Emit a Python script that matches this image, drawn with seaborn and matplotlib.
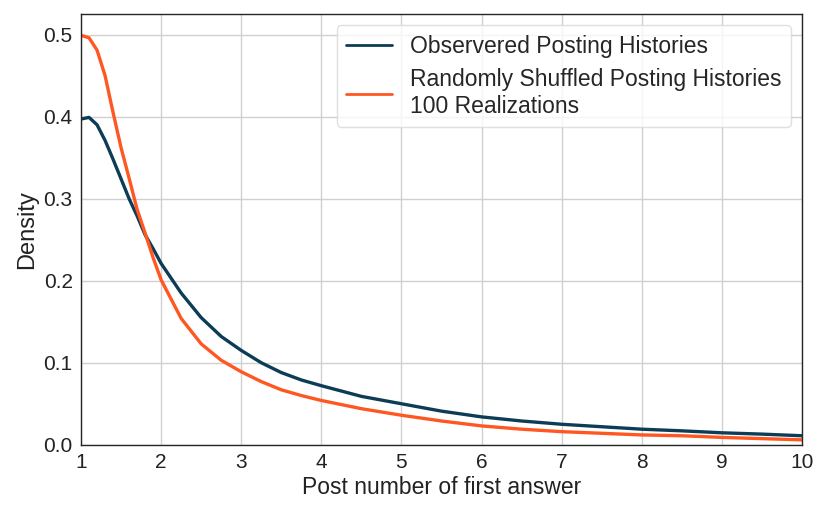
import matplotlib
matplotlib.use("Agg")
import matplotlib.pyplot as plt
import seaborn as sns
import pandas as pd

x_vals = [1.0, 1.1, 1.2, 1.3, 1.4, 1.5, 1.6, 1.7, 1.8, 1.9, 2.0, 2.25, 2.5, 2.75,
          3.0, 3.25, 3.5, 3.75, 4.0, 4.5, 5.0, 5.5, 6.0, 6.5, 7.0, 7.5, 8.0, 8.5,
          9.0, 9.5, 10.0]
observed = [0.397, 0.399, 0.390, 0.371, 0.348, 0.324, 0.300, 0.279, 0.256, 0.239,
            0.221, 0.185, 0.155, 0.132, 0.115, 0.100, 0.088, 0.079, 0.072, 0.059,
            0.050, 0.041, 0.034, 0.029, 0.025, 0.022, 0.019, 0.017, 0.0146, 0.013,
            0.011]
shuffled = [0.499, 0.496, 0.481, 0.450, 0.405, 0.362, 0.325, 0.287, 0.258, 0.228,
            0.201, 0.154, 0.123, 0.103, 0.089, 0.077, 0.067, 0.060, 0.054, 0.044,
            0.036, 0.029, 0.023, 0.019, 0.016, 0.014, 0.012, 0.011, 0.009, 0.0075,
            0.006]
labels = ["Observered Posting Histories",
          "Randomly Shuffled Posting Histories\n100 Realizations"]
colors = ["#0d3d56", "#ff5722"]

df = pd.DataFrame({
    "x": x_vals * 2,
    "y": observed + shuffled,
    "series": [labels[0]] * len(x_vals) + [labels[1]] * len(x_vals),
})

sns.set_style("white")
plt.rcParams["font.family"] = ["Liberation Sans", "DejaVu Sans"]

fig = plt.figure(figsize=(8.3, 5.19), dpi=100)
ax = fig.add_axes([0.0976, 0.143, 0.8687, 0.830])
sns.lineplot(data=df, x="x", y="y", hue="series", palette=colors, linewidth=2.4, ax=ax)

ax.set_xlim(1, 10)
ax.set_ylim(0, 0.525)
ax.set_xticks(range(1, 11))
ax.set_yticks([0.0, 0.1, 0.2, 0.3, 0.4, 0.5])
ax.set_yticklabels(["0.0", "0.1", "0.2", "0.3", "0.4", "0.5"])
ax.grid(True, color="#d0d0d0", linewidth=1)
ax.tick_params(labelsize=15, length=0, pad=6, colors="#222222")
ax.set_xlabel("Post number of first answer", fontsize=16.5, color="#222222", labelpad=3)
ax.set_ylabel("Density", fontsize=17, color="#222222", labelpad=4)
for s in ax.spines.values():
    s.set_color("#262626")
    s.set_linewidth(1.0)

leg = ax.legend(loc="upper right", fontsize=16.5, frameon=True, handlelength=2.0,
                handletextpad=0.8, borderaxespad=0.5, labelspacing=0.45,
                borderpad=0.4)
leg.get_frame().set_edgecolor("#d8d8d8")
for line in leg.get_lines():
    line.set_linewidth(2.0)

fig.savefig("out.png", dpi=100)
